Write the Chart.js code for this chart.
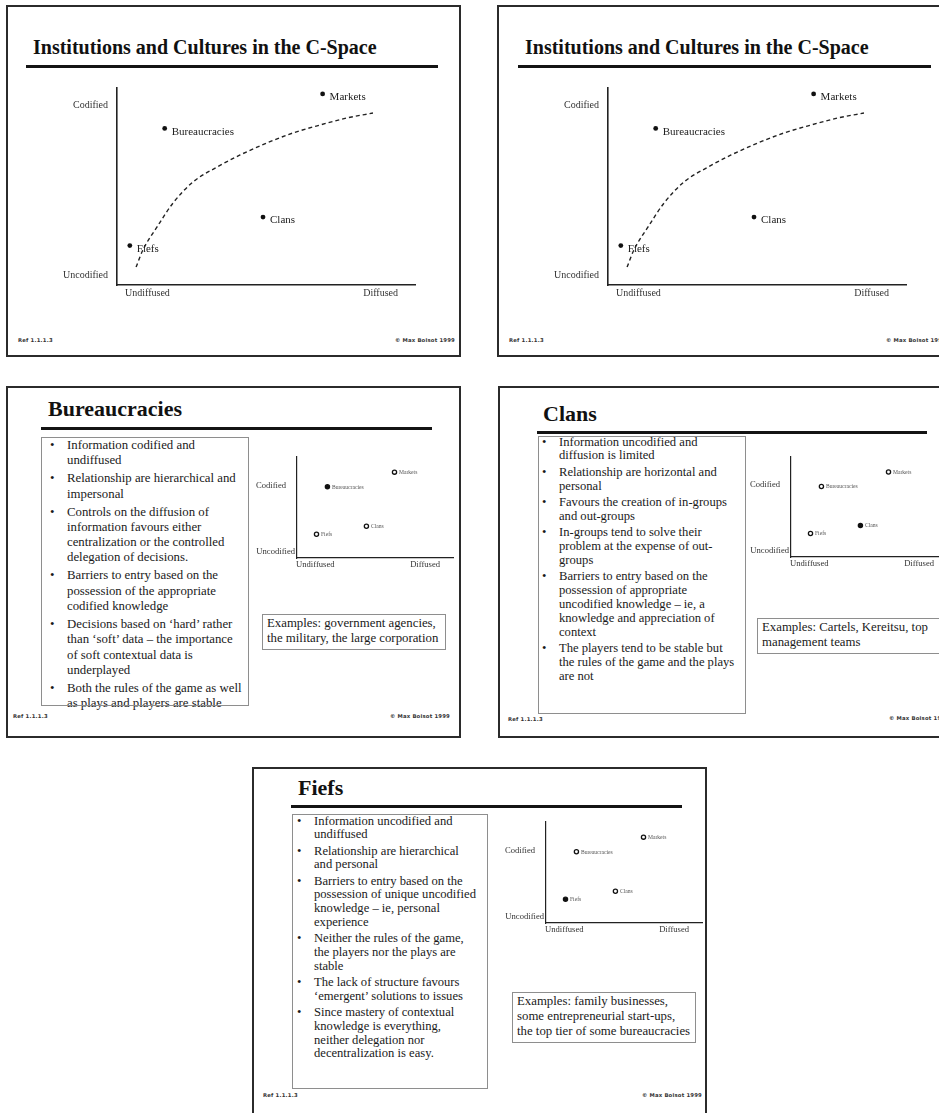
<!DOCTYPE html>
<html>
<head>
<meta charset="utf-8">
<title>Institutions and Cultures in the C-Space</title>
<script src="https://cdn.jsdelivr.net/npm/chart.js@4/dist/chart.umd.min.js"></script>
<style>
  html, body { margin: 0; padding: 0; overflow: hidden; }
  body { width: 939px; height: 1113px; position: relative; background: #fff; font-family: "Liberation Serif", "Times New Roman", serif; color: #1a1a1a; }
  .frame { position: absolute; border: 2px solid #2b2b2b; box-sizing: border-box; width: 455px; height: 352px; }
  .title { position: absolute; font-weight: bold; line-height: 1; white-space: nowrap; color: #111; }
  .rule { position: absolute; height: 3px; background: #141414; }
  .box { position: absolute; border: 1.5px solid #8e8e8e; box-sizing: border-box; }
  .list { position: absolute; white-space: nowrap; }
  .list .item { position: relative; }
  .list .item::before { content: "\2022"; position: absolute; left: -17px; top: 0; }
  .examples { position: absolute; white-space: nowrap; font-size: 12.8px; line-height: 15px; }
  .foot { position: absolute; font: bold 5.3px "DejaVu Sans", sans-serif; color: #333; white-space: nowrap; transform: translateY(-50%); letter-spacing: 0.2px; }
  .foot.r { transform: translate(-100%, -50%); }
  canvas { position: absolute; }
</style>
</head>
<body>

<!-- Slide 1 -->
<div class="frame" style="left:6px; top:5px;"></div>
<div class="title" style="left:33px; top:36.5px; font-size:20px;">Institutions and Cultures in the C-Space</div>
<div class="rule" style="left:26px; top:64.5px; width:412px;"></div>
<canvas id="cspace1" width="420" height="240" style="left:30px; top:70px;"></canvas>
<div class="foot" style="left:18px; top:340px;">Ref 1.1.1.3</div>
<div class="foot r" style="left:455px; top:340px;">© Max Boisot 1999</div>

<!-- Slide 2 -->
<div class="frame" style="left:497px; top:5px;"></div>
<div class="title" style="left:525px; top:36.5px; font-size:20px;">Institutions and Cultures in the C-Space</div>
<div class="rule" style="left:518px; top:64.5px; width:413px;"></div>
<canvas id="cspace2" width="420" height="240" style="left:521px; top:70px;"></canvas>
<div class="foot" style="left:509px; top:340px;">Ref 1.1.1.3</div>
<div class="foot r" style="left:946px; top:340px;">© Max Boisot 1999</div>

<!-- Slide 3: Bureaucracies -->
<div class="frame" style="left:6px; top:386px;"></div>
<div class="title" style="left:48px; top:397.6px; font-size:22px;">Bureaucracies</div>
<div class="rule" style="left:41px; top:426.5px; width:391px;"></div>
<div class="list" id="list3" style="left:67px; top:438px; font-size:12.8px; line-height:15.3px;"></div>
<div class="box" style="left:41px; top:436.5px; width:208px; height:269px;"></div>
<canvas id="thumb3" width="210" height="130" style="left:250px; top:445px;"></canvas>
<div class="box" style="left:262px; top:614px; width:184px; height:36px;"></div>
<div class="examples" style="left:267px; top:616px;">Examples: government agencies,<br>the military, the large corporation</div>
<div class="foot" style="left:13px; top:716px;">Ref 1.1.1.3</div>
<div class="foot r" style="left:450px; top:716px;">© Max Boisot 1999</div>

<!-- Slide 4: Clans -->
<div class="frame" style="left:498px; top:386px;"></div>
<div class="title" style="left:543px; top:402.6px; font-size:22px;">Clans</div>
<div class="rule" style="left:537px; top:430.5px; width:390px;"></div>
<div class="list" id="list4" style="left:559px; top:435.6px; font-size:12.6px; line-height:13.85px;"></div>
<div class="box" style="left:538px; top:435.5px; width:207.5px; height:278px;"></div>
<canvas id="thumb4" width="210" height="130" style="left:744px; top:445px;"></canvas>
<div class="box" style="left:757px; top:618px; width:190px; height:36px;"></div>
<div class="examples" style="left:762px; top:620px;">Examples: Cartels, Kereitsu, top<br>management teams</div>
<div class="foot" style="left:508px; top:719px;">Ref 1.1.1.3</div>
<div class="foot" style="left:889px; top:718px;">© Max Boisot 1999</div>

<!-- Slide 5: Fiefs -->
<div class="frame" style="left:252px; top:767px;"></div>
<div class="title" style="left:298px; top:776.6px; font-size:22px;">Fiefs</div>
<div class="rule" style="left:291px; top:804.5px; width:391px;"></div>
<div class="list" id="list5" style="left:314px; top:814.6px; font-size:12.6px; line-height:13.8px;"></div>
<div class="box" style="left:292px; top:813.5px; width:195.5px; height:275px;"></div>
<canvas id="thumb5" width="210" height="130" style="left:499px; top:810px;"></canvas>
<div class="box" style="left:512px; top:992px; width:184px; height:51px;"></div>
<div class="examples" style="left:517px; top:994px;">Examples: family businesses,<br>some entrepreneurial start-ups,<br>the top tier of some bureaucracies</div>
<div class="foot" style="left:263px; top:1095px;">Ref 1.1.1.3</div>
<div class="foot r" style="left:702px; top:1095px;">© Max Boisot 1999</div>

<script>
// Institutional forms placed in the C-space (0–100 on each axis)
const categories = ['Markets', 'Bureaucracies', 'Clans', 'Fiefs'];
const diffusion = [69, 16, 49, 4.3];
const codification = [97, 79.5, 34.5, 20];

// Dashed curve through the space
const curveDiffusion = [6.4, 8.7, 13.4, 18.8, 25.5, 33.6, 41.3, 50.3, 59.1, 68.1, 77.2, 85.9];
const curveCodification = [9.1, 17.8, 29.4, 41.6, 52.3, 59.9, 66.0, 72.1, 77.2, 81.2, 84.8, 87.3];

// Small map repeated on each institution slide
const thumbDiffusion = [62.5, 19.5, 44.5, 12.5];
const thumbCodification = [85, 70.5, 31.5, 23.5];

// Axis end labels
const yAxisLabels = ['Uncodified', 'Codified'];
const xAxisLabels = ['Undiffused', 'Diffused'];

// Bullet text of the three institution slides
const bureaucracyPoints = [
  ['Information codified and', 'undiffused'],
  ['Relationship are hierarchical and', 'impersonal'],
  ['Controls on the diffusion of', 'information favours either', 'centralization or the controlled', 'delegation of decisions.'],
  ['Barriers to entry based on the', 'possession of the appropriate', 'codified knowledge'],
  ['Decisions based on \u2018hard\u2019 rather', 'than \u2018soft\u2019 data \u2013 the importance', 'of soft contextual data is', 'underplayed'],
  ['Both the rules of the game as well', 'as plays and players are stable']
];
const clanPoints = [
  ['Information uncodified and', 'diffusion is limited'],
  ['Relationship are horizontal and', 'personal'],
  ['Favours the creation of in-groups', 'and out-groups'],
  ['In-groups tend to solve their', 'problem at the expense of out-', 'groups'],
  ['Barriers to entry based on the', 'possession of appropriate', 'uncodified knowledge \u2013 ie, a', 'knowledge and appreciation of', 'context'],
  ['The players tend to be stable but', 'the rules of the game and the plays', 'are not']
];
const fiefPoints = [
  ['Information uncodified and', 'undiffused'],
  ['Relationship are hierarchical', 'and personal'],
  ['Barriers to entry based on the', 'possession of unique uncodified', 'knowledge \u2013 ie, personal', 'experience'],
  ['Neither the rules of the game,', 'the players nor the plays are', 'stable'],
  ['The lack of structure favours', '\u2018emergent\u2019 solutions to issues'],
  ['Since mastery of contextual', 'knowledge is everything,', 'neither delegation nor', 'decentralization is easy.']
];

function fillList(id, points, gap) {
  const host = document.getElementById(id);
  points.forEach((lines, i) => {
    const item = document.createElement('div');
    item.className = 'item';
    if (i > 0) item.style.marginTop = gap + 'px';
    lines.forEach((line, j) => {
      if (j > 0) item.appendChild(document.createElement('br'));
      item.appendChild(document.createTextNode(line));
    });
    host.appendChild(item);
  });
}
fillList('list3', bureaucracyPoints, 2.7);
fillList('list4', clanPoints, 2.5);
fillList('list5', fiefPoints, 2.4);

// Point names and axis end labels, placed through the chart scales
const cspaceLabels = {
  id: 'cspaceLabels',
  beforeDatasetsDraw(chart, args, o) {
    const { ctx, chartArea, scales: { x, y } } = chart;
    ctx.save();
    ctx.textBaseline = 'middle';
    ctx.font = o.pointFont;
    ctx.fillStyle = o.pointColor;
    ctx.textAlign = 'left';
    chart.getDatasetMeta(0).data.forEach((el, i) => {
      ctx.fillText(categories[i], el.x + o.dx, el.y + o.dy);
    });
    ctx.font = o.axisFont;
    ctx.fillStyle = o.axisColor;
    ctx.textAlign = 'right';
    ctx.fillText(yAxisLabels[1], chartArea.left - o.codifiedGap, y.getPixelForValue(o.codifiedAt));
    ctx.fillText(yAxisLabels[0], chartArea.left - o.uncodifiedGap, y.getPixelForValue(o.uncodifiedAt));
    ctx.textAlign = 'left';
    ctx.fillText(xAxisLabels[0], x.getPixelForValue(o.undiffusedAt), chartArea.bottom + o.xGap);
    ctx.textAlign = 'right';
    ctx.fillText(xAxisLabels[1], x.getPixelForValue(o.diffusedAt), chartArea.bottom + o.xGap);
    ctx.restore();
  }
};

function axis(width) {
  return {
    type: 'linear', min: 0, max: 100,
    grid: { display: false, drawTicks: false },
    ticks: { display: false },
    border: { display: true, color: '#222', width: width }
  };
}

function cspaceChart(id, padding) {
  return new Chart(document.getElementById(id), {
    type: 'scatter',
    data: {
      datasets: [
        {
          data: categories.map((c, i) => ({ x: diffusion[i], y: codification[i] })),
          pointRadius: 2.4, pointBorderWidth: 0,
          pointBackgroundColor: '#111', clip: false
        },
        {
          data: curveDiffusion.map((d, i) => ({ x: d, y: curveCodification[i] })),
          showLine: true, pointRadius: 0, borderColor: '#222', borderWidth: 1.4,
          borderDash: [4, 3], cubicInterpolationMode: 'monotone', clip: false
        }
      ]
    },
    options: {
      responsive: false, animation: false, events: [],
      layout: { padding: padding, autoPadding: false },
      scales: { x: axis(1.6), y: axis(1.6) },
      plugins: {
        legend: { display: false }, tooltip: { enabled: false },
        cspaceLabels: {
          pointFont: '11px "Liberation Serif"', pointColor: '#222', dx: 7, dy: 3.5,
          axisFont: '10px "Liberation Serif"', axisColor: '#333',
          codifiedAt: 91.4, uncodifiedAt: 5, codifiedGap: 9, uncodifiedGap: 9,
          undiffusedAt: 2.7, diffusedAt: 94.3, xGap: 8
        }
      }
    },
    plugins: [cspaceLabels]
  });
}

function thumbChart(id, focus, padding) {
  return new Chart(document.getElementById(id), {
    type: 'scatter',
    data: {
      datasets: [{
        data: categories.map((c, i) => ({ x: thumbDiffusion[i], y: thumbCodification[i] })),
        pointRadius: 2.1, pointBorderWidth: 1.3, pointBorderColor: '#111',
        pointBackgroundColor: categories.map(c => c === focus ? '#111' : '#fff'),
        clip: false
      }]
    },
    options: {
      responsive: false, animation: false, events: [],
      layout: { padding: padding, autoPadding: false },
      scales: { x: axis(1.2), y: axis(1.2) },
      plugins: {
        legend: { display: false }, tooltip: { enabled: false },
        cspaceLabels: {
          pointFont: '5.6px "Liberation Serif"', pointColor: '#555', dx: 4.5, dy: 0.4,
          axisFont: '8.6px "Liberation Serif"', axisColor: '#333',
          codifiedAt: 72, uncodifiedAt: 6, codifiedGap: 11, uncodifiedGap: 2,
          undiffusedAt: -0.6, diffusedAt: 91.7, xGap: 6.5
        }
      }
    },
    plugins: [cspaceLabels]
  });
}

cspaceChart('cspace1', { left: 87, top: 18, right: 35, bottom: 25 });
cspaceChart('cspace2', { left: 87, top: 18, right: 35, bottom: 25 });
thumbChart('thumb3', 'Bureaucracies', { left: 47, top: 12, right: 7, bottom: 17 });
thumbChart('thumb4', 'Clans', { left: 47, top: 12, right: 7, bottom: 18 });
thumbChart('thumb5', 'Fiefs', { left: 47, top: 12, right: 7, bottom: 17 });
</script>
</body>
</html>
